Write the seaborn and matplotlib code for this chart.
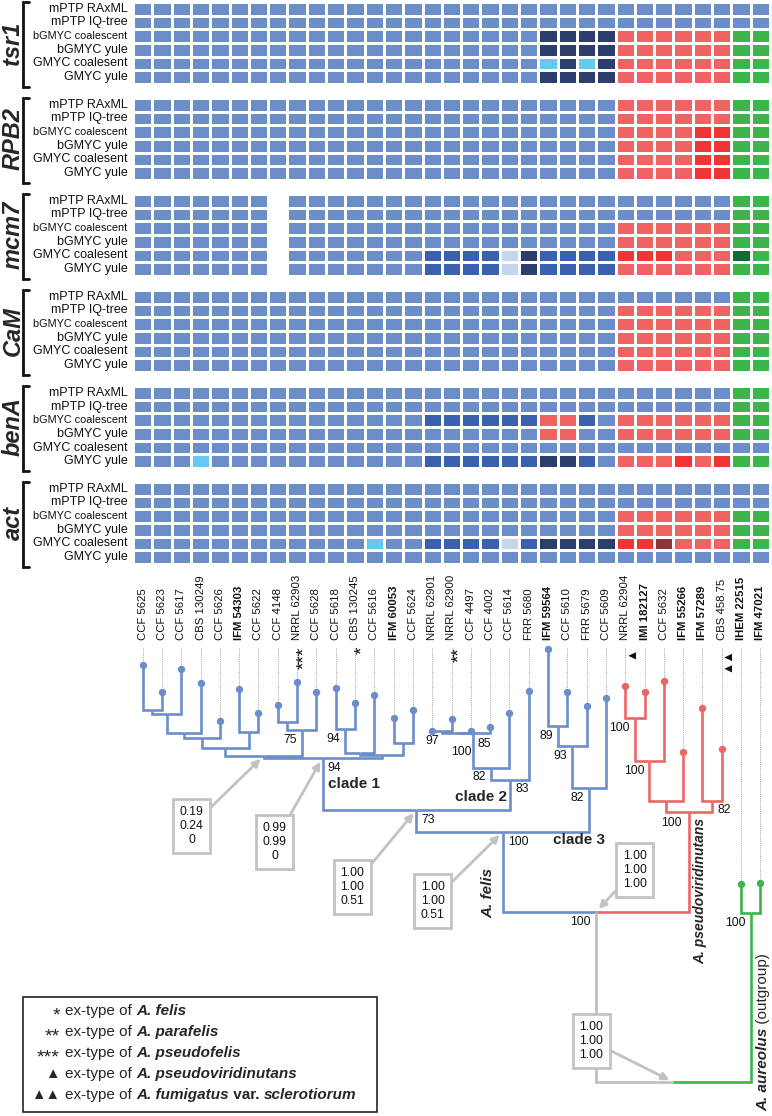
import matplotlib.pyplot as plt
import matplotlib.transforms as mtransforms
from matplotlib.colors import ListedColormap
from matplotlib.patches import Rectangle
import numpy as np
import pandas as pd
import seaborn as sns

strains = ["CCF 5625", "CCF 5623", "CCF 5617", "CBS 130249", "CCF 5626", "IFM 54303",
           "CCF 5622", "CCF 4148", "NRRL 62903", "CCF 5628", "CCF 5618", "CBS 130245",
           "CCF 5616", "IFM 60053", "CCF 5624", "NRRL 62901", "NRRL 62900", "CCF 4497",
           "CCF 4002", "CCF 5614", "FRR 5680", "IFM 59564", "CCF 5610", "FRR 5679",
           "CCF 5609", "NRRL 62904", "IMI 182127", "CCF 5632", "IFM 55266", "IFM 57289",
           "CBS 458.75", "IHEM 22515", "IFM 47021"]
methods = ["mPTP RAxML", "mPTP IQ-tree", "bGMYC coalescent", "bGMYC yule",
           "GMYC coalesent", "GMYC yule"]
genes = ["tsr1", "RPB2", "mcm7", "CaM", "benA", "act"]

# one letter per strain (spaces only split the clades), "-" = no sequence
calls_tsr1 = ["bbbbbbbbbbbbbbb bbbbbb bbbb bbbbbb bb",
              "bbbbbbbbbbbbbbb bbbbbb bbbb bbbbbb bb",
              "bbbbbbbbbbbbbbb bbbbbb nnnn rrrrrr gg",
              "bbbbbbbbbbbbbbb bbbbbb nnnn rrrrrr gg",
              "bbbbbbbbbbbbbbb bbbbbb cncn rrrrrr gg",
              "bbbbbbbbbbbbbbb bbbbbb nnnn rrrrrr gg"]
calls_rpb2 = ["bbbbbbbbbbbbbbb bbbbbb bbbb rrrrrr gg",
              "bbbbbbbbbbbbbbb bbbbbb bbbb rrrrrr gg",
              "bbbbbbbbbbbbbbb bbbbbb bbbb rrrrRR gg",
              "bbbbbbbbbbbbbbb bbbbbb bbbb rrrrRR gg",
              "bbbbbbbbbbbbbbb bbbbbb bbbb rrrrRR gg",
              "bbbbbbbbbbbbbbb bbbbbb bbbb rrrrRR gg"]
calls_mcm7 = ["bbbbbbb-bbbbbbb bbbbbb bbbb bbbbbb gg",
              "bbbbbbb-bbbbbbb bbbbbb bbbb bbbbbb gg",
              "bbbbbbb-bbbbbbb bbbbbb bbbb rrrrrr gg",
              "bbbbbbb-bbbbbbb bbbbbb bbbb rrrrrr gg",
              "bbbbbbb-bbbbbbb mmmmpn mmmm RRRrrr Gg",
              "bbbbbbb-bbbbbbb mmmmpn mmmm rrrrrr gg"]
calls_cam = ["bbbbbbbbbbbbbbb bbbbbb bbbb bbbbbb gg",
             "bbbbbbbbbbbbbbb bbbbbb bbbb rrrrrr gg",
             "bbbbbbbbbbbbbbb bbbbbb bbbb rrrrrr gg",
             "bbbbbbbbbbbbbbb bbbbbb bbbb rrrrrr gg",
             "bbbbbbbbbbbbbbb bbbbbb bbbb rrrrrr gg",
             "bbbbbbbbbbbbbbb bbbbbb bbbb rrrrrr gg"]
calls_bena = ["bbbbbbbbbbbbbbb bbbbbb bbbb bbbbbb gg",
              "bbbbbbbbbbbbbbb bbbbbb bbbb bbbbbb gg",
              "bbbbbbbbbbbbbbb mmmmmm rrmb rrrrrr gg",
              "bbbbbbbbbbbbbbb bbbbbb rrbb rrrrrr gg",
              "bbbbbbbbbbbbbbb bbbbbb bbbb bbbbbb bb",
              "bbbcbbbbbbbbbbb mmmmmm nnmb rrrRrR gg"]
calls_act = ["bbbbbbbbbbbbbbb bbbbbb bbbb bbbbbb bb",
             "bbbbbbbbbbbbbbb bbbbbb bbbb bbbbbb bb",
             "bbbbbbbbbbbbbbb bbbbbb bbbb rrrrrr gg",
             "bbbbbbbbbbbbbbb bbbbbb bbbb rrrrrr gg",
             "bbbbbbbbbbbbcbb mmmmpm nnnn RRdrrr gg",
             "bbbbbbbbbbbbbbb bbbbbb bbbb bbbbbb bb"]
calls = [calls_tsr1, calls_rpb2, calls_mcm7, calls_cam, calls_bena, calls_act]

call_codes = ["b", "n", "m", "p", "c", "r", "R", "d", "g", "G"]
call_colors = ["#6b8dc9", "#2c3f6c", "#3a60ae", "#c6d4ec", "#66c7f0",
               "#ef6363", "#ee3434", "#8c3737", "#3db54a", "#0f6a36"]

# tree: tip lineage (f = A. felis, p = A. pseudoviridinutans, a = A. aureolus)
tip_lineage = "fffffffffffffff ffffff ffff pppppp aa"
tip_height = [665, 692, 669, 683, 721, 689, 713, 705, 682, 692, 688, 703, 695, 718, 710,
              731, 719, 731, 727, 713, 691, 649, 692, 706, 698,
              686, 692, 681, 752, 708, 749, 884, 883]
node_id = ["c01", "c02", "c03", "c04", "c56", "c06", "c78", "c79", "c09", "c1011", "c1012",
           "c1314", "c1014", "clade1", "c1516", "c1517", "c1518", "c1519", "clade2", "c12",
           "c2122", "c2123", "clade3", "felis", "c2526", "c2527", "c2528", "c2930", "pseudo",
           "ingroup", "c3132", "root"]
node_left = [0, "c01", "c02", "c03", 5, "c04", 7, "c78", "c06", 10, "c1011",
             13, "c1012", "c09", 15, "c1516", "c1517", "c1518", "c1519", "clade1",
             21, "c2122", "c2123", "c12", 25, "c2526", "c2527", 29, "c2528",
             "felis", 31, "ingroup"]
node_right = [1, 2, 3, 4, 6, "c56", 8, 9, "c79", 11, 12,
              14, "c1314", "c1014", 16, 17, 18, 19, 20, "clade2",
              22, 23, 24, "clade3", 26, 27, 28, 30, "c2930",
              "pseudo", 32, "c3132"]
node_height = [710, 714, 733, 738, 732, 748, 722, 730, 756, 729, 753,
               743, 755, 758, 731, 733, 733, 768, 780, 810,
               726, 746, 788, 832, 718, 761, 801, 801, 812,
               912, 913, 1082]
node_support = ["", "", "", "", "", "", "", "75", "", "94", "",
                "", "", "94", "97", "85", "100", "82", "83", "73",
                "89", "93", "82", "100", "100", "100", "", "82", "100",
                "100", "100", ""]
# label placement next to its node, in pixels (negative = label left of node)
support_dx = [0, 0, 0, 0, 0, 0, 0, -5, 0, -5, 0,
              0, 0, 5, -3, 21, -2, -5, 5, 5,
              -5, -5, -5, 5, -5, -5, 0, 5, -8,
              -5, -5, 0]
support_dy = [0, 0, 0, 0, 0, 0, 0, 4, 0, 4, 0,
              0, 0, 4, 4, 5, 13, 3, 3, 4,
              4, 4, 4, 4, 4, 4, 0, 3, 5,
              4, 4, 0]

box_node = ["c09", "clade1", "c12", "felis", "ingroup", "root"]
box_values = ["0.19\n0.24\n0", "0.99\n0.99\n0", "1.00\n1.00\n0.51",
              "1.00\n1.00\n0.51", "1.00\n1.00\n1.00", "1.00\n1.00\n1.00"]
box_offset = [(-72, 70), (-48, 84), (-64, 77), (-70, 69), (39, -42), (-82, -41)]

legend_marks = ["*", "**", "***", "\u25B2", "\u25B2\u25B2"]
legend_names = [["A. felis"], ["A. parafelis"], ["A. pseudofelis"],
                ["A. pseudoviridinutans"], ["A. fumigatus", " var. ", "sclerotiorum"]]

W, H = 772, 1116
COLW = 637 / 33
BLUE, RED, GREEN, GRAY = "#6b8dc9", "#ec6666", "#3db54a", "#bdbdbd"

sns.set_theme(style="white")
plt.rcParams["font.family"] = ["Liberation Sans", "DejaVu Sans"]


def px(x):
    # picture x -> column units of the tree axes
    return (x - 133) / COLW


def rich_text(ax, x, y, parts, rotation=0, **kw):
    fig = ax.figure
    renderer = fig.canvas.get_renderer()
    trans = ax.transData
    for s, style in parts:
        t = ax.text(x, y, s, transform=trans, rotation=rotation, **kw, **style)
        t.draw(renderer)
        ex = t.get_window_extent(renderer)
        if rotation == 90:
            trans = mtransforms.offset_copy(t.get_transform(), fig=fig, y=ex.height, units="dots")
        else:
            trans = mtransforms.offset_copy(t.get_transform(), fig=fig, x=ex.width, units="dots")


fig = plt.figure(figsize=(W / 100, H / 100), dpi=100)

# ---- tree -------------------------------------------------------------
ax = fig.add_axes([0, 0, 1, 1])
ax.set_xlim(px(0), px(W))
ax.set_ylim(H, 0)
ax.axis("off")

lineage = tip_lineage.replace(" ", "")
lin_color = {"f": BLUE, "p": RED, "a": GREEN}
xpos, ypos, color = {}, {}, {}
for i, name in enumerate(strains):
    xpos[i], ypos[i], color[i] = i + 0.5, tip_height[i], lin_color[lineage[i]]
    bold = name.split()[0] in ("IFM", "IMI", "IHEM")
    ax.text(i + 0.5, 640, name, rotation=90, ha="center", va="bottom", fontsize=8.2,
            fontweight="bold" if bold else "normal", color="#111111")
    ax.plot([i + 0.5, i + 0.5], [648, tip_height[i]], ls=(0, (1, 1.2)), color="#a0a0a0", lw=0.7)

for nid, l, r, h in zip(node_id, node_left, node_right, node_height):
    xpos[nid] = (xpos[l] + xpos[r]) / 2
    ypos[nid] = h
    color[nid] = color[l] if color[l] == color[r] else GRAY
    for c in (l, r):
        ax.plot([xpos[c], xpos[c], xpos[nid]], [ypos[c], h, h], color=color[c], lw=1.9,
                solid_capstyle="butt", solid_joinstyle="miter", zorder=2)

for i in range(len(strains)):
    ax.plot(xpos[i], ypos[i], "o", ms=4.3, color=color[i], zorder=3)

for nid, s, dx, dy in zip(node_id, node_support, support_dx, support_dy):
    if not s:
        continue
    ax.text(xpos[nid] + dx / COLW, ypos[nid] + dy, s, ha="right" if dx < 0 else "left",
            va="top", fontsize=8.7, color="#111111")

# ex-type marks under the strain names
for i, mark in [(8, "***"), (11, "*"), (16, "**"), (25, "\u25B2"), (30, "\u25B2\u25B2")]:
    star = "*" in mark
    ax.text(i + 0.5 + (8 if star else 6) / COLW, 647, mark, rotation=90, ha="center",
            va="top", fontsize=13.5 if star else 9, color="#111111")

# posterior boxes
for nid, val, (dx, dy) in zip(box_node, box_values, box_offset):
    ax.annotate(val, xy=(xpos[nid], ypos[nid]), xytext=(xpos[nid] + dx / COLW, ypos[nid] + dy),
                ha="center", va="center", fontsize=8.7, linespacing=1.25, color="#111111",
                bbox=dict(boxstyle="square,pad=0.55", fc="white", ec="#c2c2c2", lw=2),
                arrowprops=dict(arrowstyle="-|>", color="#c2c2c2", lw=2, mutation_scale=11,
                                shrinkA=0, shrinkB=3))

bi = dict(fontweight="bold", fontstyle="italic")
ax.text(px(328), 784, "clade 1", fontsize=11, fontweight="bold", ha="left", va="center")
ax.text(px(507), 797, "clade 2", fontsize=11, fontweight="bold", ha="right", va="center")
ax.text(px(579), 840, "clade 3", fontsize=11, fontweight="bold", ha="center", va="center")
ax.text(px(488), 893, "A. felis", rotation=90, ha="center", va="center", fontsize=11, **bi)
ax.text(px(700), 891, "A. pseudoviridinutans", rotation=90, ha="center", va="center",
        fontsize=10, **bi)
rich_text(ax, px(763), 1111, [("A. aureolus", bi), (" (outgroup)", {})], rotation=90,
          ha="center", va="bottom", fontsize=11)

# legend
ax.add_patch(Rectangle((px(23), 997), 354 / COLW, 115, fill=False, ec="#222222", lw=1.2))
for k, (mark, name) in enumerate(zip(legend_marks, legend_names)):
    y = 1011 + 21 * k
    star = "*" in mark
    ax.text(px(60), y + (5 if star else 0), mark, ha="right", va="center",
            fontsize=14 if star else 10.5)
    parts = [("ex-type of ", {})]
    for j, piece in enumerate(name):
        parts.append((piece, {"fontweight": "bold"} if j == 1 else bi))
    rich_text(ax, px(65), y, parts, ha="left", va="center", fontsize=11)

# ---- delimitation heatmaps -------------------------------------------
cmap = ListedColormap(call_colors)
for k, (gene, rows) in enumerate(zip(genes, calls)):
    top = 2 + 96 * k
    hax = fig.add_axes([133 / W, 1 - (top + 82) / H, 637 / W, 82 / H])
    codes = [[call_codes.index(ch) if ch in call_codes else np.nan
              for ch in row.replace(" ", "")] for row in rows]
    df = pd.DataFrame(codes, index=methods, columns=strains, dtype=float)
    sns.heatmap(df, ax=hax, cmap=cmap, vmin=-0.5, vmax=len(call_codes) - 0.5, cbar=False,
                linewidths=0.8, linecolor="white", mask=df.isna(), xticklabels=False,
                yticklabels=True)
    hax.set_ylabel("")
    for lab in hax.get_yticklabels():
        lab.set_rotation(0)
        lab.set_fontsize(7.8 if lab.get_text() == "bGMYC coalescent" else 9)
        lab.set_color("#111111")
    hax.tick_params(left=False, length=0, pad=4)
    hax.text((13 - 133) / 637, 0.5, gene, transform=hax.transAxes, rotation=90,
             ha="center", va="center", fontsize=17, **bi)
    bx0, bx1 = (23 - 133) / 637, (29 - 133) / 637
    hax.plot([bx1, bx0, bx0, bx1], [1.0, 1.0, -0.04, -0.04], transform=hax.transAxes,
             color="#111111", lw=2, clip_on=False, solid_joinstyle="miter")

fig.savefig("out.png", dpi=100, facecolor="white")
